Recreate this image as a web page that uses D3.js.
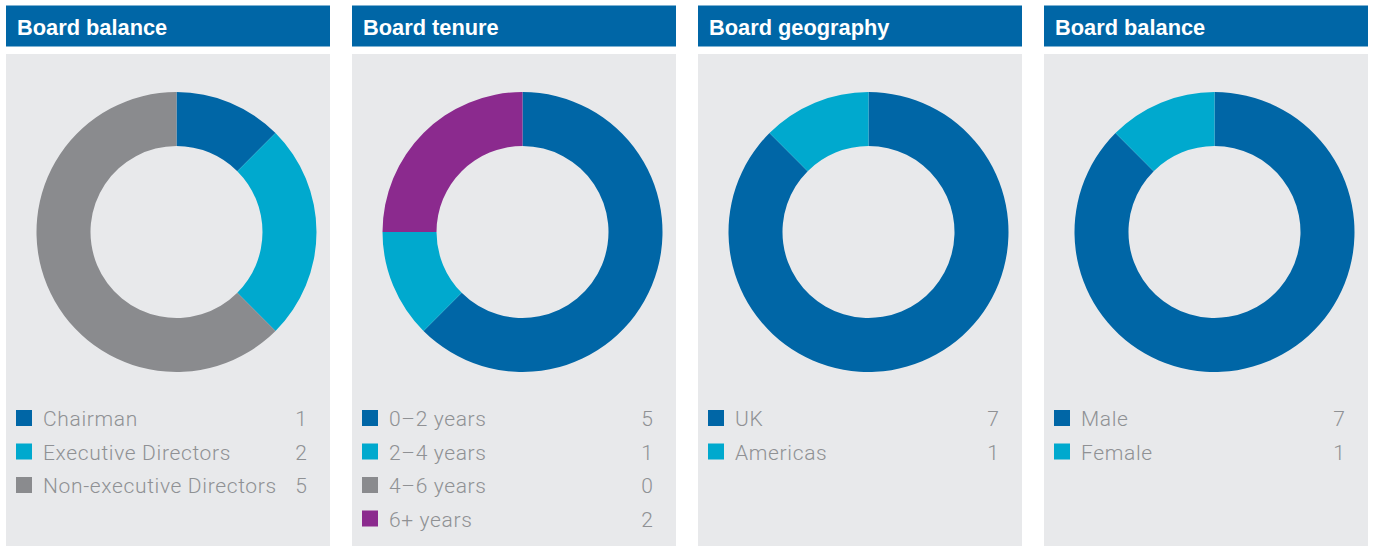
<!DOCTYPE html>
<html><head><meta charset="utf-8">
<script src="https://cdn.jsdelivr.net/npm/d3@7"></script>
<style>
html,body{margin:0;padding:0;background:#fff;}
svg{display:block;}
</style></head>
<body>
<svg id="chart" width="1375" height="546"></svg>
<script>
const titles = ["Board balance", "Board tenure", "Board geography", "Board balance"];
const labels1 = ["Chairman", "Executive Directors", "Non-executive Directors"];
const values1 = [1, 2, 5];
const labels2 = ["0\u20132 years", "2\u20134 years", "4\u20136 years", "6+ years"];
const values2 = [5, 1, 0, 2];
const labels3 = ["UK", "Americas"];
const values3 = [7, 1];
const labels4 = ["Male", "Female"];
const values4 = [7, 1];
const colors1 = ["#0066a6", "#00a9ce", "#8a8b8e"];
const colors2 = ["#0066a6", "#00a9ce", "#8a8b8e", "#8b2a8e"];
const colors3 = ["#0066a6", "#00a9ce"];
const colors4 = ["#0066a6", "#00a9ce"];

const panels = [
  {title: titles[0], labels: labels1, values: values1, colors: colors1},
  {title: titles[1], labels: labels2, values: values2, colors: colors2},
  {title: titles[2], labels: labels3, values: values3, colors: colors3},
  {title: titles[3], labels: labels4, values: values4, colors: colors4}
];

const svg = d3.select("#chart");
const panelX = d3.scalePoint().domain(d3.range(panels.length)).range([6, 1044]);
const pW = 324;

const pie = d3.pie().sort(null).value(d => d);
const arc = d3.arc().innerRadius(86).outerRadius(140);

panels.forEach((p, i) => {
  const g = svg.append("g").attr("transform", `translate(${panelX(i)},0)`);
  g.append("rect").attr("x", 0).attr("y", 5.5).attr("width", pW).attr("height", 41).attr("fill", "#0066a6");
  g.append("text").attr("x", 11).attr("y", 35)
    .attr("font-family", "Liberation Sans, Arial, sans-serif").attr("font-weight", "bold")
    .attr("font-size", 21.8).attr("fill", "#fff").text(p.title);
  g.append("rect").attr("x", 0).attr("y", 54).attr("width", pW).attr("height", 492).attr("fill", "#e8e9eb");

  const dg = g.append("g").attr("transform", "translate(170.5,232)");
  dg.selectAll("path").data(pie(p.values)).join("path")
    .attr("d", arc).attr("fill", (d, j) => p.colors[j]);

  const rowY = d3.scaleLinear().domain([0, 1]).range([410, 443.5]);
  const lg = g.append("g");
  p.labels.forEach((lab, j) => {
    const y = rowY(j);
    lg.append("rect").attr("x", 10).attr("y", y).attr("width", 16).attr("height", 16).attr("fill", p.colors[j]);
    lg.append("text").attr("x", 37).attr("y", y + 16)
      .attr("font-family", "Roboto, sans-serif").attr("font-weight", 300)
      .attr("font-size", 21).attr("letter-spacing", 0.65).attr("fill", "#8f9194").text(lab);
    lg.append("text").attr("x", 301).attr("y", y + 16).attr("text-anchor", "end")
      .attr("font-family", "Roboto, sans-serif").attr("font-weight", 300)
      .attr("font-size", 21).attr("fill", "#8f9194").text(p.values[j]);
  });
});
</script>
</body></html>
